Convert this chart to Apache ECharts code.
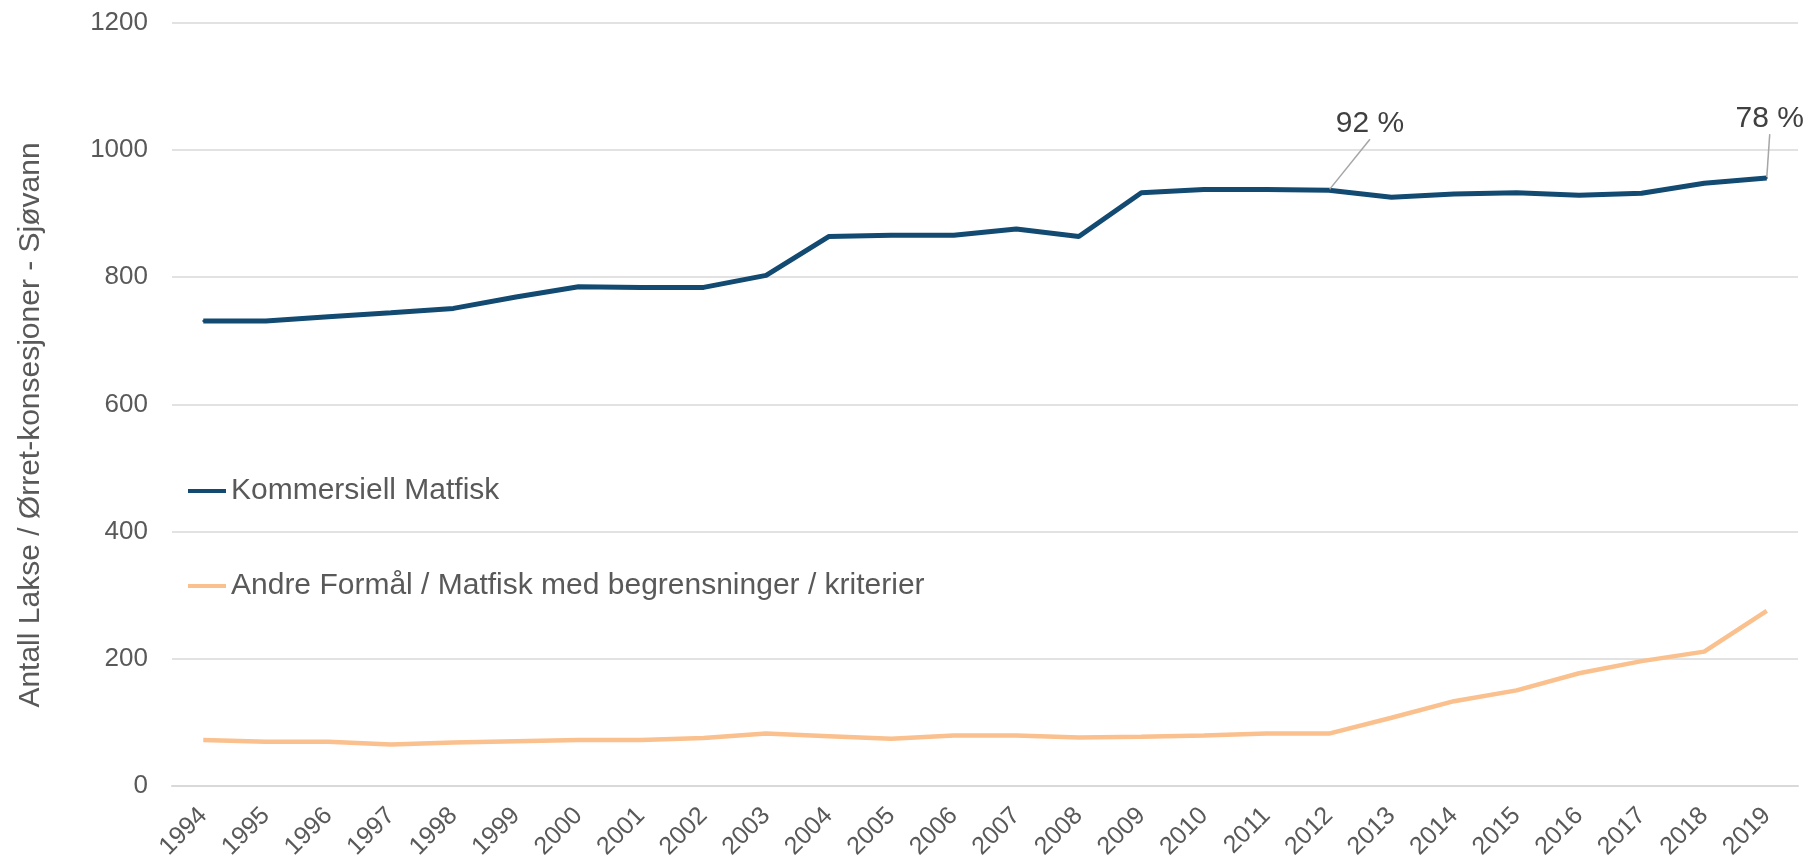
<!DOCTYPE html>
<html>
<head>
<meta charset="utf-8">
<script src="https://cdn.jsdelivr.net/npm/echarts@6/dist/echarts.min.js"></script>
<style>
html,body{margin:0;padding:0;background:#fff;}
#chart{width:1807px;height:862px;}
</style>
</head>
<body>
<div id="chart"></div>
<script>
const years = ['1994','1995','1996','1997','1998','1999','2000','2001','2002','2003','2004','2005','2006','2007','2008','2009','2010','2011','2012','2013','2014','2015','2016','2017','2018','2019'];
const kommersiell = [731,731,738,744,751,769,785,784,784,803,864,866,866,876,864,933,938,938,937,926,931,933,929,932,948,956];
const andre = [72,69,69,65,68,70,72,72,75,82,78,74,79,79,76,77,79,82,82,107,133,150,177,196,211,275];
const seriesNames = ['Kommersiell Matfisk','Andre Formål / Matfisk med begrensninger / kriterier'];
const annotations = {18:'92 %', 25:'78 %'};
const yTitle = 'Antall Lakse / Ørret-konsesjoner - Sjøvann';

const FONT = '"Liberation Sans", Arial, Helvetica, sans-serif';
const chart = echarts.init(document.getElementById('chart'));

const kData = kommersiell.map((v,i)=>{
  if (annotations[i]) {
    return {value:v, label:{show:true, formatter:annotations[i]}, labelLine:{show:true}};
  }
  return v;
});

chart.setOption({
  animation:false,
  backgroundColor:'#ffffff',
  textStyle:{fontFamily:FONT},
  grid:{left:172, right:9, top:23, bottom:74, containLabel:false},
  legend:{
    orient:'vertical', left:188, top:474, itemGap:61, padding:0,
    icon:'rect', itemWidth:38, itemHeight:4,
    textStyle:{fontSize:30, color:'#595959', fontFamily:FONT, lineHeight:34},
    data:seriesNames
  },
  graphic:[{
    type:'text', x:31, y:425, rotation:Math.PI/2,
    style:{text:yTitle, font:'30px '+FONT, fill:'#595959', textAlign:'center', textVerticalAlign:'middle'}
  }],
  xAxis:{
    type:'category', data:years, boundaryGap:true,
    axisLine:{show:true, lineStyle:{color:'#d9d9d9', width:2}},
    axisTick:{show:false},
    axisLabel:{rotate:45, margin:26, fontSize:25, color:'#595959', fontFamily:FONT, interval:0}
  },
  yAxis:{
    type:'value', min:0, max:1200, interval:200,
    axisLine:{show:false}, axisTick:{show:false},
    axisLabel:{margin:24, fontSize:26, color:'#595959', fontFamily:FONT, formatter:function(v){return String(v);}},
    splitLine:{lineStyle:{color:'#d9d9d9', width:1.5}}
  },
  series:[
    {
      name:seriesNames[0], type:'line', data:kData,
      showSymbol:true, symbol:'circle', symbolSize:2,
      itemStyle:{color:'#124a72'},
      lineStyle:{color:'#124a72', width:5},
      label:{show:false, position:'top', fontSize:30, color:'#404040', fontFamily:FONT},
      labelLine:{show:true, lineStyle:{color:'#a6a6a6', width:1.5}},
      labelLayout:function(p){
        if (p.dataIndex===18) return {dx:41, dy:-45};
        if (p.dataIndex===25) return {dx:3, dy:-38};
        return {};
      },
      z:3
    },
    {
      name:seriesNames[1], type:'line', data:andre,
      showSymbol:false,
      itemStyle:{color:'#fac08d'},
      lineStyle:{color:'#fac08d', width:4.5},
      z:2
    }
  ]
});
</script>
</body>
</html>
